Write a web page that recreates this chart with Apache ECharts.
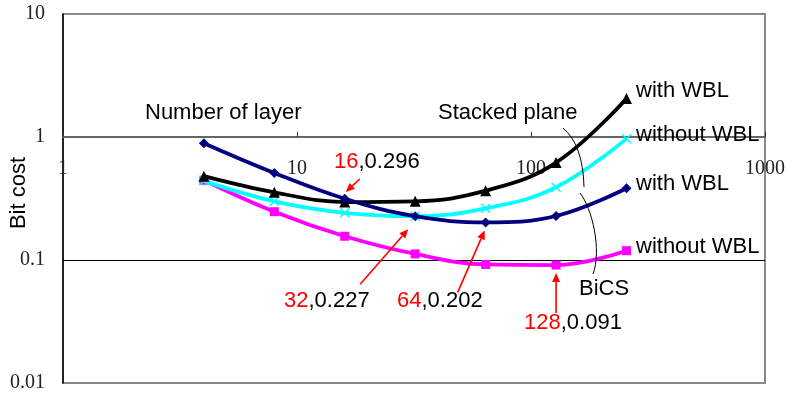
<!DOCTYPE html>
<html>
<head>
<meta charset="utf-8">
<script src="https://cdn.jsdelivr.net/npm/echarts@6/dist/echarts.min.js"></script>
<style>
  html, body { margin: 0; padding: 0; background: #fff; }
  #chart { width: 788px; height: 396px; }
</style>
</head>
<body>
<div id="chart"></div>
<script>
// Number of layers (x) and bit cost (y) for each architecture
const layers = [4, 8, 16, 32, 64, 128, 256];
const stackedWithWBL = [0.48, 0.355, 0.296, 0.30, 0.366, 0.62, 2.06];
const stackedWithoutWBL = [0.44, 0.30, 0.242, 0.227, 0.263, 0.39, 0.97];
const bicsWithWBL = [0.89, 0.51, 0.315, 0.227, 0.202, 0.228, 0.383];
const bicsWithoutWBL = [0.445, 0.247, 0.156, 0.112, 0.092, 0.091, 0.119];

const xTickLabels = ['1', '10', '100', '1000'];
const yTickLabels = ['0.01', '0.1', '1', '10'];

const pairs = ys => layers.map((x, i) => [x, ys[i]]);

const SERIF = '"Liberation Serif", "Times New Roman", serif';
const SANS = '"Liberation Sans", Arial, sans-serif';

// X-shaped marker for the cyan series
const crossSymbol = 'path://M0,1L1,0L5,4L9,0L10,1L6,5L10,9L9,10L5,6L1,10L0,9L4,5Z';

const chart = echarts.init(document.getElementById('chart'), null, { renderer: 'canvas' });

function lineSeries(name, ys, color, symbol, size, z) {
  return {
    name, type: 'line', data: pairs(ys), smooth: 0.4, z,
    symbol, symbolSize: size,
    lineStyle: { color, width: 3.8 },
    itemStyle: { color, borderColor: color, borderWidth: 0 },
    emphasis: { disabled: true }
  };
}

const option = {
  animation: false,
  backgroundColor: '#fff',
  grid: { left: 63, right: 23, top: 14, bottom: 13, show: true, borderColor: '#888', borderWidth: 2, outerBoundsMode: 'none' },
  xAxis: {
    type: 'log', logBase: 10, min: 1, max: 1000,
    position: 'bottom', offset: -246,
    axisLine: { show: true, lineStyle: { color: '#666', width: 2 } },
    axisTick: { show: true, inside: true, length: 5, lineStyle: { color: '#333', width: 1 } },
    axisLabel: {
      margin: 22, color: '#222', fontFamily: SERIF, fontSize: 20,
      showMinLabel: true, showMaxLabel: true,
      formatter: v => xTickLabels[Math.round(Math.log10(v))]
    },
    splitLine: { show: false }
  },
  yAxis: {
    type: 'log', logBase: 10, min: 0.01, max: 10,
    axisLine: { show: true, lineStyle: { color: '#000', width: 1.5 } },
    axisTick: { show: false },
    axisLabel: {
      margin: 18, color: '#222', fontFamily: SERIF, fontSize: 20,
      formatter: v => yTickLabels[Math.round(Math.log10(v)) + 2]
    },
    splitLine: { show: true, lineStyle: { color: ['#888', '#000', '#000', '#888'], width: 1 } }
  },
  series: [
    lineSeries('BiCS without WBL', bicsWithoutWBL, '#FF00FF', 'rect', 9, 2),
    lineSeries('Stacked plane without WBL', stackedWithoutWBL, '#00FFFF', crossSymbol, 10, 3),
    lineSeries('Stacked plane with WBL', stackedWithWBL, '#000000', 'triangle', 11, 4),
    lineSeries('BiCS with WBL', bicsWithWBL, '#000080', 'diamond', 10, 5)
  ]
};

chart.setOption(option);

// ---- annotations ----
const FS = '22px ';
const g = [];
function text(str, x, y, color, align) {
  g.push({ type: 'text', x, y, z: 20,
    style: { text: str, fill: color || '#000', font: FS + SANS, textAlign: align || 'left', textVerticalAlign: 'middle' } });
}
// value labels: red layer count followed by black bit cost
function valueLabel(n, cost, x, y) {
  g.push({ type: 'text', x, y, z: 20,
    style: {
      text: '{r|' + n + '}{k|,' + cost + '}', textVerticalAlign: 'middle',
      rich: { r: { fill: '#FF0000', font: FS + SANS }, k: { fill: '#000', font: FS + SANS } }
    } });
}
function arrow(x1, y1, x2, y2) {
  const ang = Math.atan2(y2 - y1, x2 - x1);
  const L = 9, W = 4;
  const bx = x2 - L * Math.cos(ang), by = y2 - L * Math.sin(ang);
  g.push({ type: 'line', z: 20, shape: { x1, y1, x2: bx, y2: by }, style: { stroke: '#FF0000', lineWidth: 1.6 } });
  g.push({ type: 'polygon', z: 20, shape: { points: [
    [x2, y2],
    [bx + W * Math.sin(ang), by - W * Math.cos(ang)],
    [bx - W * Math.sin(ang), by + W * Math.cos(ang)]
  ] }, style: { fill: '#FF0000' } });
}
const px = (x, y) => chart.convertToPixel({ gridIndex: 0 }, [x, y]);

// y-axis title
g.push({ type: 'text', x: 19, y: 193, rotation: Math.PI / 2, z: 20,
  style: { text: 'Bit cost', fill: '#000', font: FS + SANS, textAlign: 'center', textVerticalAlign: 'middle' } });

text('Number of layer', 145, 113);
text('Stacked plane', 438, 113);
text('with WBL', 636, 91);
text('without WBL', 636, 135);
text('with WBL', 636, 184);
text('without WBL', 636, 247);
text('BiCS', 579, 289);

valueLabel(16, 0.296, 334, 162);
valueLabel(32, 0.227, 284, 301);
valueLabel(64, 0.202, 397, 301);
valueLabel(128, 0.091, 524, 323);

const p16 = px(16, stackedWithWBL[2]);
arrow(p16[0] + 15, p16[1] - 23, p16[0] + 1, p16[1] - 10);
const p32 = px(32, bicsWithWBL[3]);
arrow(p32[0] - 55, p32[1] + 68, p32[0] - 7, p32[1] + 13);
const p64 = px(64, bicsWithWBL[4]);
arrow(p64[0] - 28, p64[1] + 70, p64[0] - 1, p64[1] + 8);
const p128 = px(128, bicsWithoutWBL[5]);
arrow(p128[0], p128[1] + 48, p128[0], p128[1] + 8);

// brackets grouping the two curve families
g.push({ type: 'bezierCurve', z: 20, shape: { x1: 563, y1: 128, cpx1: 583, cpy1: 145, x2: 584, y2: 187 },
  style: { stroke: '#000', lineWidth: 1, fill: null } });
g.push({ type: 'bezierCurve', z: 20, shape: { x1: 580, y1: 193, cpx1: 592, cpy1: 208, cpx2: 602, cpy2: 250, x2: 593, y2: 274 },
  style: { stroke: '#000', lineWidth: 1, fill: null } });

chart.setOption({ graphic: g });
</script>
</body>
</html>
